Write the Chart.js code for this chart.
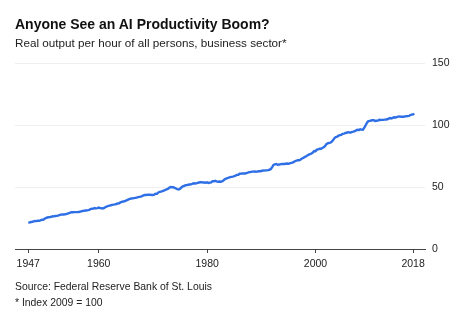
<!DOCTYPE html>
<html>
<head>
<meta charset="utf-8">
<script src="https://cdn.jsdelivr.net/npm/chart.js@4/dist/chart.umd.min.js"></script>
<style>
  html, body { margin: 0; padding: 0; background: #fff; }
  body { width: 468px; height: 322px; position: relative; overflow: hidden; font-family: "Liberation Sans", Arial, sans-serif; color: #111; }
  #title { position: absolute; left: 15px; top: 16px; font-size: 14px; font-weight: bold; white-space: nowrap; }
  #subtitle { position: absolute; left: 15px; top: 36px; font-size: 11.7px; color: #222; white-space: nowrap; }
  #source { position: absolute; left: 15px; top: 281px; font-size: 10.4px; color: #222; white-space: nowrap; }
  #note { position: absolute; left: 15px; top: 297px; font-size: 10.4px; color: #222; white-space: nowrap; }
  #wrap { position: absolute; left: 0; top: 0; width: 468px; height: 322px; }
</style>
</head>
<body>
<div id="wrap"><canvas id="c"></canvas></div>
<div id="title">Anyone See an AI Productivity Boom?</div>
<div id="subtitle">Real output per hour of all persons, business sector*</div>
<div id="source">Source: Federal Reserve Bank of St. Louis</div>
<div id="note">* Index 2009 = 100</div>
<script>
// Quarterly index values (2009 = 100), 1947 Q1 onward
const startYear = 1947;
const productivity = [
  21.5, 21.3, 21.8, 22.0,   // 1947
  22.3, 22.6, 22.5, 22.8,   // 1948
  22.8, 23.1, 23.6, 23.5,   // 1949
  24.4, 25.0, 25.4, 25.6,   // 1950
  25.7, 26.0, 26.4, 26.3,   // 1951
  26.6, 26.7, 26.9, 27.4,   // 1952
  27.7, 27.8, 27.8, 27.9,   // 1953
  28.2, 28.5, 28.9, 29.3,   // 1954
  29.6, 29.6, 29.7, 29.7,   // 1955
  29.7, 29.8, 30.0, 30.3,   // 1956
  30.6, 30.7, 31.0, 31.1,   // 1957
  31.3, 31.6, 32.2, 32.5,   // 1958
  32.6, 33.0, 32.8, 33.0,   // 1959
  33.4, 33.0, 32.9, 32.6,   // 1960
  33.1, 33.8, 34.3, 34.8,   // 1961
  35.0, 35.3, 35.6, 35.8,   // 1962
  36.0, 36.3, 36.7, 36.9,   // 1963
  37.6, 38.0, 38.3, 38.4,   // 1964
  39.0, 39.4, 40.0, 40.5,   // 1965
  40.7, 40.8, 41.0, 41.2,   // 1966
  41.5, 41.8, 42.0, 42.2,   // 1967
  42.7, 43.2, 43.5, 43.6,   // 1968
  43.8, 43.7, 43.8, 43.6,   // 1969
  43.6, 43.9, 44.6, 44.5,   // 1970
  45.6, 46.0, 46.3, 46.6,   // 1971
  47.1, 47.6, 48.1, 48.5,   // 1972
  49.4, 50.0, 49.8, 49.9,   // 1973
  49.3, 48.8, 48.3, 48.0,   // 1974
  48.6, 49.6, 50.5, 50.8,   // 1975
  51.4, 51.5, 51.8, 52.0,   // 1976
  52.2, 52.5, 53.0, 52.8,   // 1977
  52.9, 53.3, 53.6, 53.8,   // 1978
  53.9, 53.6, 53.6, 53.4,   // 1979
  53.8, 53.2, 53.5, 53.8,   // 1980
  54.7, 54.6, 55.0, 54.6,   // 1981
  54.3, 54.4, 54.2, 54.6,   // 1982
  55.3, 56.2, 56.8, 57.2,   // 1983
  57.5, 58.0, 58.2, 58.4,   // 1984
  58.7, 59.1, 59.8, 59.9,   // 1985
  60.7, 60.8, 61.0, 60.9,   // 1986
  60.9, 61.2, 61.5, 62.0,   // 1987
  62.0, 62.4, 62.4, 62.6,   // 1988
  62.3, 62.4, 62.7, 62.7,   // 1989
  62.9, 63.3, 63.2, 63.4,   // 1990
  63.4, 63.6, 63.9, 64.5,   // 1991
  66.0, 67.8, 68.3, 68.6,   // 1992
  68.0, 68.1, 68.2, 68.6,   // 1993
  68.5, 68.6, 68.8, 68.9,   // 1994
  68.8, 69.1, 69.4, 69.7,   // 1995
  70.2, 70.9, 71.2, 71.6,   // 1996
  71.6, 72.2, 73.0, 73.4,   // 1997
  74.2, 74.7, 75.5, 76.2,   // 1998
  76.6, 77.0, 77.8, 79.0,   // 1999
  78.9, 80.1, 80.3, 80.9,   // 2000
  80.8, 81.5, 82.1, 83.0,   // 2001
  84.6, 85.2, 85.6, 85.8,   // 2002
  86.6, 87.8, 89.4, 90.3,   // 2003
  90.6, 91.4, 91.8, 92.1,   // 2004
  92.9, 93.0, 93.6, 93.7,   // 2005
  94.2, 94.0, 93.9, 94.4,   // 2006
  94.6, 95.0, 95.7, 96.1,   // 2007
  95.9, 96.5, 96.3, 96.2,   // 2008
  97.8, 99.8, 101.9, 103.1, // 2009
  103.3, 103.6, 103.8, 103.9, // 2010
  103.3, 103.4, 103.5, 104.2, // 2011
  104.0, 104.1, 104.1, 104.3, // 2012
  104.4, 104.6, 105.1, 105.6, // 2013
  105.2, 105.7, 106.2, 106.1, // 2014
  106.4, 106.7, 106.9, 106.6, // 2015
  106.7, 106.6, 106.9, 107.1, // 2016
  107.2, 107.3, 108.0, 108.3, // 2017
  108.6, 108.9               // 2018
];
const xTickYears = [1947, 1960, 1980, 2000, 2018];
const yTickValues = [0, 50, 100, 150];

const points = productivity.map((v, i) => ({ x: startYear + i / 4, y: v }));

new Chart(document.getElementById('c'), {
  type: 'line',
  data: {
    datasets: [{
      data: points,
      borderColor: '#2f6fe6',
      borderWidth: 2.4,
      pointRadius: 0,
      tension: 0,
      fill: false
    }]
  },
  options: {
    responsive: true,
    maintainAspectRatio: false,
    animation: false,
    layout: { padding: { top: 63, left: 15, right: 0, bottom: 42 } },
    plugins: { legend: { display: false }, tooltip: { enabled: false } },
    scales: {
      x: {
        type: 'linear',
        min: 1944.55,
        max: 2020.2,
        afterBuildTicks: (s) => { s.ticks = xTickYears.map(v => ({ value: v })); },
        afterFit: (s) => { s.height = 31; },
        grid: { drawOnChartArea: false, drawTicks: true, tickLength: 4, color: '#444', lineWidth: 1 },
        border: { display: true, color: '#444', width: 1 },
        ticks: {
          autoSkip: false, maxRotation: 0, padding: 5,
          color: '#222', font: { family: 'Liberation Sans', size: 10.5 },
          callback: (v) => String(v)
        }
      },
      y: {
        position: 'right',
        min: 0,
        max: 150,
        afterBuildTicks: (s) => { s.ticks = yTickValues.map(v => ({ value: v })); },
        afterFit: (s) => { s.width = 43; },
        grid: { drawTicks: false, color: '#efefef', lineWidth: 1 },
        border: { display: false },
        ticks: {
          padding: 7, color: '#222', font: { family: 'Liberation Sans', size: 10.5 }
        }
      }
    }
  }
});
</script>
</body>
</html>
